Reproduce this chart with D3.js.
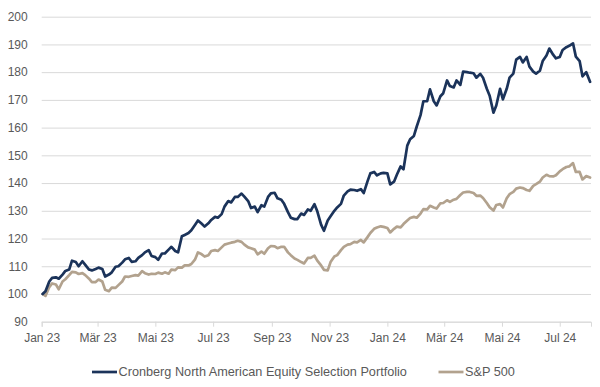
<!DOCTYPE html>
<html><head><meta charset="utf-8">
<script src="https://cdn.jsdelivr.net/npm/d3@7"></script>
<style>
html,body{margin:0;padding:0;background:#fff;}
svg{display:block;font-family:"Liberation Sans",Arial,sans-serif;}
</style></head>
<body><svg id="c" width="600" height="387"></svg>
<script>
const dates = [
"2023-01-02","2023-01-05","2023-01-09","2023-01-12","2023-01-16","2023-01-19","2023-01-23","2023-01-26","2023-01-30","2023-02-02",
"2023-02-06","2023-02-09","2023-02-13","2023-02-16","2023-02-20","2023-02-23","2023-02-27","2023-03-02","2023-03-06","2023-03-09",
"2023-03-13","2023-03-16","2023-03-20","2023-03-23","2023-03-27","2023-03-30","2023-04-03","2023-04-06","2023-04-10","2023-04-13",
"2023-04-17","2023-04-20","2023-04-24","2023-04-27","2023-05-01","2023-05-04","2023-05-08","2023-05-11","2023-05-15","2023-05-18",
"2023-05-22","2023-05-25","2023-05-29","2023-06-01","2023-06-05","2023-06-08","2023-06-12","2023-06-15","2023-06-19","2023-06-22",
"2023-06-26","2023-06-29","2023-07-03","2023-07-06","2023-07-10","2023-07-13","2023-07-17","2023-07-20","2023-07-24","2023-07-27",
"2023-07-31","2023-08-03","2023-08-07","2023-08-10","2023-08-14","2023-08-17","2023-08-21","2023-08-24","2023-08-28","2023-08-31",
"2023-09-04","2023-09-07","2023-09-11","2023-09-14","2023-09-18","2023-09-21","2023-09-25","2023-09-28","2023-10-02","2023-10-05",
"2023-10-09","2023-10-12","2023-10-16","2023-10-19","2023-10-23","2023-10-26","2023-10-30","2023-11-02","2023-11-06","2023-11-09",
"2023-11-13","2023-11-16","2023-11-20","2023-11-23","2023-11-27","2023-11-30","2023-12-04","2023-12-07","2023-12-11","2023-12-14",
"2023-12-18","2023-12-21","2023-12-25","2023-12-28","2024-01-01","2024-01-04","2024-01-08","2024-01-11","2024-01-15","2024-01-18",
"2024-01-22","2024-01-25","2024-01-29","2024-02-01","2024-02-05","2024-02-08","2024-02-12","2024-02-15","2024-02-19","2024-02-22",
"2024-02-26","2024-02-29","2024-03-04","2024-03-07","2024-03-11","2024-03-14","2024-03-18","2024-03-21","2024-03-25","2024-03-28",
"2024-04-01","2024-04-04","2024-04-08","2024-04-11","2024-04-15","2024-04-18","2024-04-22","2024-04-25","2024-04-29","2024-05-02",
"2024-05-06","2024-05-09","2024-05-13","2024-05-16","2024-05-20","2024-05-23","2024-05-27","2024-05-30","2024-06-03","2024-06-06",
"2024-06-10","2024-06-13","2024-06-17","2024-06-20","2024-06-24","2024-06-27","2024-07-01","2024-07-04","2024-07-08","2024-07-11",
"2024-07-15","2024-07-18","2024-07-22","2024-07-25","2024-07-29","2024-08-02"
];
const portfolio = [
100,101,104.5,105.8,106,105.5,107,108.3,108.8,112,
111.5,110,111.8,110.5,108.8,108.5,109,109.5,109,106.3,
107,107.8,109.8,110,111.3,112.5,113,111.6,111.8,113,
114,115,115.8,113.7,113.3,112.3,114.6,114.6,116,117,
115.5,115,120.8,121.3,122,123,125,126.5,125.3,124.3,
125.5,126.7,127.8,127.5,128.8,131.5,133.5,133,135,135,
136.2,135.1,133.5,131,131.5,129.5,132,131.5,135,136.3,
136.5,134.5,134,132.5,129.5,127.5,127,127,129,128.5,
130.5,130,132.4,129.8,125,122.8,126.5,128,130,131.2,
132.5,135.5,137,137.6,137.5,137.2,137.8,136.4,140.6,143.5,
144,142.8,143.5,143.7,143.5,139.5,140.5,143,146,145,
153.5,155.8,157,160.4,164.5,169.5,169.5,173.8,169.5,168,
171.3,172.4,177,175,174.5,177,175.4,180.2,180,179.8,
179.6,178,179.4,178,174,171.5,165.4,168,174,170.2,
174,178,179.5,184.5,185.5,183.5,185.5,182,180.2,179.5,
180.5,184,186,188.5,186.3,185,185.5,188,189,189.5,
190.4,185.6,184,178.5,180,176.5
];
const sp500 = [
100,99.3,102.5,103.8,103.4,101.7,104.5,105.3,106.8,108,
107.8,107.2,107.5,106.8,105.5,104.3,104.3,105.2,104.5,101.5,
101,102.3,102.2,103.2,104.5,106.3,106.2,106.5,106.8,106.6,
108.2,107.5,107,107.3,107.2,107.7,107.3,107.8,107.3,108.8,
108.6,109.6,109.5,110.3,110.3,110.8,112.5,115,114.3,113.5,
114,115.5,115.8,115.5,116.8,117.8,118.2,118.5,118.8,119.2,
118.8,117.8,116.8,116.5,116,114.3,115.3,114.5,116.5,117.3,
117.2,116.5,117,117,115,114,112.8,112.3,111.5,111,
113,113,113.8,112,110.3,108.7,108.5,111.5,113.5,114,
115.8,117,117.8,118,118.8,118.6,119.5,118.6,120.5,122,
123.5,124,124.4,124.2,123.8,122.2,123.5,124.3,124,125.2,
126.5,127.4,127.8,127.5,129,130.6,130.5,131.8,131.2,130.8,
132.7,132.8,133.8,133.2,134,134.3,135.7,136.6,136.8,136.8,
136.4,135.4,135.5,134.6,132.8,131.3,130.1,132.1,132.4,131.2,
134.5,136,136.8,138,138.4,138.2,137.5,137.2,139,139.6,
140.5,142,143,142.5,142.4,142.8,144.2,145,145.8,146,
147.2,144,144,141.3,142.5,142
];
const yTicks = [90,100,110,120,130,140,150,160,170,180,190,200];
const xTickDates = ["2023-01-01","2023-03-01","2023-05-01","2023-07-01","2023-09-01","2023-11-01","2024-01-01","2024-03-01","2024-05-01","2024-07-01"];
const xTickLabels = ["Jan 23","Mär 23","Mai 23","Jul 23","Sep 23","Nov 23","Jan 24","Mär 24","Mai 24","Jul 24"];
const seriesNames = ["Cronberg North American Equity Selection Portfolio","S&P 500"];
const seriesColors = ["#1b335a","#b2a28e"];

const parse = d3.timeParse("%Y-%m-%d");
const svg = d3.select("#c");
const plotL = 41.7, plotR = 591, plotT = 16.7, plotB = 321.7;
const x = d3.scaleTime().domain([parse("2023-01-01"), parse("2024-08-03")]).range([plotL, plotR]);
const y = d3.scaleLinear().domain([90, 200]).range([plotB, plotT]);

// gridlines + y labels
const ya = svg.append("g").attr("transform", `translate(${plotL},0)`)
  .call(d3.axisLeft(y).tickValues(yTicks).tickSize(-(plotR-plotL)).tickPadding(14).tickFormat(d3.format("d")));
ya.select(".domain").remove();
ya.selectAll(".tick line").attr("stroke", "#d9d9d9").attr("stroke-width", 1);
ya.selectAll(".tick text").attr("fill", "#595959").style("font-size", "12px").style("font-family", "'Liberation Sans',Arial,sans-serif");

// x axis
const xa = svg.append("g").attr("transform", `translate(0,${plotB})`)
  .call(d3.axisBottom(x).tickValues(xTickDates.map(parse)).tickSize(5).tickPadding(7)
    .tickFormat((d, i) => xTickLabels[i]));
xa.select(".domain").attr("stroke", "#d9d9d9");
xa.selectAll(".tick line").attr("stroke", "#d9d9d9");
xa.selectAll(".tick text").attr("fill", "#595959").style("font-size", "12px").style("font-family", "'Liberation Sans',Arial,sans-serif");

const line = d3.line().x((d, i) => x(parse(dates[i]))).y(d => y(d));
[sp500, portfolio].forEach((s, j) => {
  const idx = j === 0 ? 1 : 0;
  svg.append("path").datum(s).attr("d", line)
    .attr("fill", "none").attr("stroke", seriesColors[idx]).attr("stroke-width", 2.7)
    .attr("stroke-linejoin", "round").attr("stroke-linecap", "round");
});

// legend
const lg = svg.append("g").attr("transform", "translate(0,372)");
const legX = [92, 438.5];
seriesNames.forEach((n, i) => {
  lg.append("line").attr("x1", legX[i]).attr("x2", legX[i] + 25).attr("y1", 0).attr("y2", 0)
    .attr("stroke", seriesColors[i]).attr("stroke-width", 2.7);
  lg.append("text").attr("x", legX[i] + 26.5).attr("y", 0).attr("dy", "0.35em")
    .attr("fill", "#595959").style("font-size", "12.7px").text(n);
});
</script></body></html>
